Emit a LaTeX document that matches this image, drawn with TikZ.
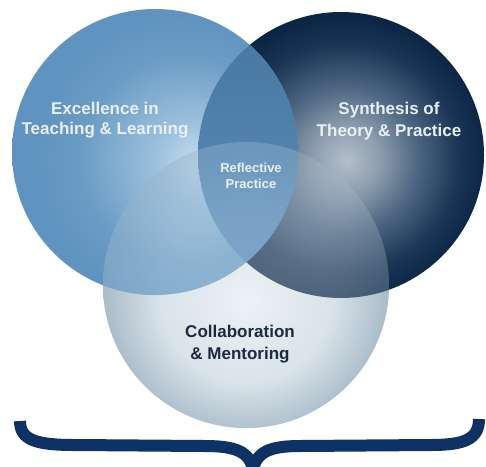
\documentclass[tikz,border=0pt]{standalone}
\usepackage{fontspec}
\setmainfont{Liberation Sans}
\definecolor{Lc0}{HTML}{C8DEEF}
\definecolor{Lc1}{HTML}{9CC0DD}
\definecolor{Lc2}{HTML}{6B9CC5}
\definecolor{Lc3}{HTML}{6093BF}
\definecolor{Rc0}{HTML}{B4BFCA}
\definecolor{Rc1}{HTML}{8C9CAD}
\definecolor{Rc2}{HTML}{4A6380}
\definecolor{Rc3}{HTML}{1A3555}
\definecolor{Rc4}{HTML}{0B2545}
\definecolor{Bc0}{HTML}{ECF2F5}
\definecolor{Bc1}{HTML}{D9E3EA}
\definecolor{Bc2}{HTML}{A9BBC9}
\definecolor{lenstop}{HTML}{4676A0}
\definecolor{lensbot}{HTML}{5E8FBA}
\definecolor{lbtint}{HTML}{86B2D5}
\definecolor{midtint}{HTML}{5F92BF}
\definecolor{bracec}{RGB}{14,50,100}
\definecolor{lighttext}{HTML}{E8EFF5}
\definecolor{darktext}{HTML}{1C2A40}
\pgfdeclareradialshading{shL}{\pgfpoint{8bp}{-2bp}}{color(0bp)=(Lc0); color(7bp)=(Lc1); color(18bp)=(Lc2); color(25bp)=(Lc3); color(50bp)=(Lc3)}
\pgfdeclareradialshading{shR}{\pgfpoint{1bp}{-1bp}}{color(0bp)=(Rc0); color(6bp)=(Rc1); color(13bp)=(Rc2); color(20bp)=(Rc3); color(25bp)=(Rc4); color(50bp)=(Rc4)}
\pgfdeclareradialshading{shB}{\pgfpoint{0bp}{-3bp}}{color(0bp)=(Bc0); color(15bp)=(Bc1); color(25bp)=(Bc2); color(50bp)=(Bc2)}
\begin{document}
\begin{tikzpicture}[x=1pt,y=-1pt,
  lbl/.style={font=\bfseries, align=center, inner sep=0pt},
  bracestyle/.style={draw=bracec, line width=12pt, line cap=butt, line join=round}]
\useasboundingbox (0,0) rectangle (486,466);
\fill[white] (0,0) rectangle (486,466);
% circle centres
\coordinate (cL) at (155,152);
\coordinate (cR) at (341,155);
\coordinate (cB) at (246,285);
% bottom circle base layer
\shade[shading=shB] (cB) circle[radius=143];
% right and left circles
\shade[shading=shR] (cR) circle[radius=143];
\shade[shading=shL] (cL) circle[radius=143];
% lens left/right: darker blue
\begin{scope}
  \clip (cR) circle[radius=143];
  \clip (cL) circle[radius=143];
  \shade[top color=lenstop, bottom color=lensbot] (198,10) rectangle (298,296);
\end{scope}
% bottom circle translucent on top
\shade[shading=shB, fill opacity=0.32] (cB) circle[radius=143];
% restore blue tint where bottom overlaps left
\begin{scope}
  \clip (cB) circle[radius=143];
  \clip (cL) circle[radius=143];
  \fill[lbtint, fill opacity=0.22] (cL) circle[radius=143];
  \clip (cR) circle[radius=143];
  \fill[midtint, fill opacity=0.25] (cR) circle[radius=143];
\end{scope}
% labels
\node[lbl, text=lighttext, font=\bfseries\fontsize{17}{20}\selectfont] (excel) at (105,120) {Excellence in\\Teaching \& Learning};
\node[lbl, text=lighttext, font=\bfseries\fontsize{17}{21.5}\selectfont] (synth) at (389,121) {Synthesis of\\Theory \& Practice};
\node[lbl, text=lighttext, font=\bfseries\fontsize{13}{16}\selectfont] (refl) at (251,176) {Reflective\\Practice};
\node[lbl, text=darktext, font=\bfseries\fontsize{17}{22}\selectfont] (collab) at (240,344) {Collaboration\\\& Mentoring};
% brace
\coordinate (bl) at (20,421);
\coordinate (bm) at (253,470);
\coordinate (br) at (479,419);
\draw[bracestyle] (bl) .. controls (20,440) and (36,445) .. (75,445) -- (205,446) .. controls (236,446) and (250,452) .. (bm);
\draw[bracestyle] (br) .. controls (479,440) and (463,445) .. (430,445) -- (300,446) .. controls (270,446) and (256,452) .. (bm);
\end{tikzpicture}
\end{document}
